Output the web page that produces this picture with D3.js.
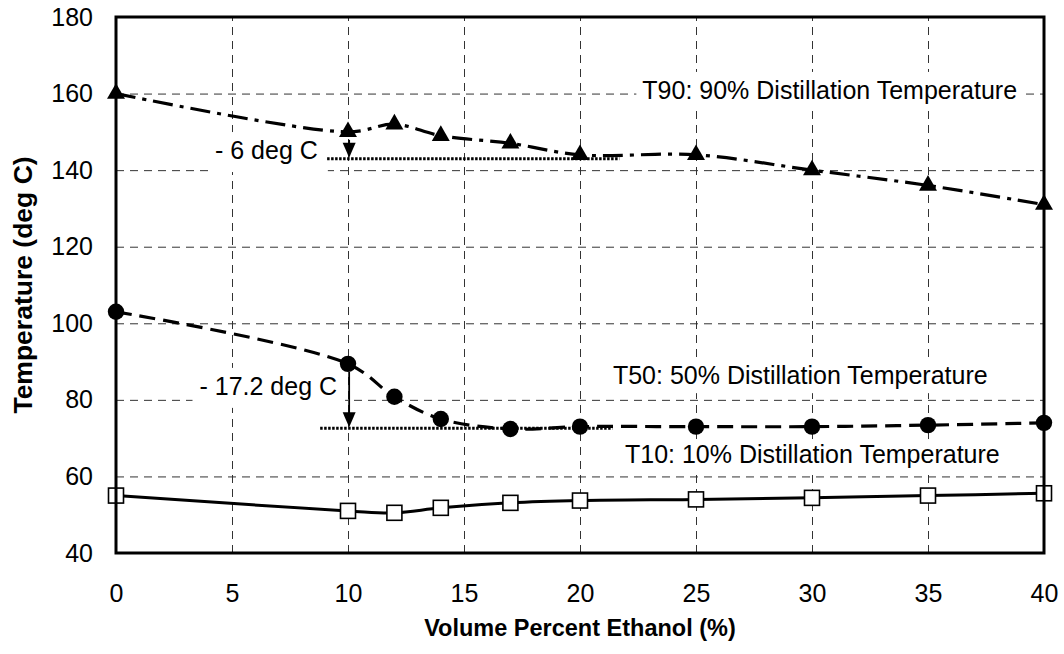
<!DOCTYPE html>
<html>
<head>
<meta charset="utf-8">
<script src="https://cdn.jsdelivr.net/npm/d3@7"></script>
<style>
  body { margin: 0; background: #fff; }
  svg { display: block; font-family: "Liberation Sans", Arial, sans-serif; }
</style>
</head>
<body>
<div id="chart"></div>
<script>
// data
var ethanol = [0, 10, 12, 14, 17, 20, 25, 30, 35, 40];
var t90 = [160, 150, 152, 149, 147, 144, 144, 140, 136, 131];
var t50 = [103, 89.4, 80.8, 75, 72.4, 73, 73, 73, 73.4, 74];
var t10 = [55, 51, 50.5, 51.8, 53.1, 53.7, 54, 54.4, 55, 55.6];
var xTicks = [0, 5, 10, 15, 20, 25, 30, 35, 40];
var yTicks = [40, 60, 80, 100, 120, 140, 160, 180];
var seriesLabels = ['T90: 90% Distillation Temperature', 'T50: 50% Distillation Temperature', 'T10: 10% Distillation Temperature'];
var dropLabels = ['- 6 deg C', '- 17.2 deg C'];
var dropFrom = [150, 89.4];   // value the arrow starts from (at 10 %)
var dropTo = [143, 72.6];     // level of the dotted reference line

var width = 1064, height = 654,
    margin = { top: 17, right: 20, bottom: 101, left: 116 };
var w = width - margin.left - margin.right,
    h = height - margin.top - margin.bottom;

var svg = d3.select('#chart').append('svg')
    .attr('width', width)
    .attr('height', height);

var g = svg.append('g').attr('transform', `translate(${margin.left},${margin.top})`);

var x = d3.scaleLinear().domain([0, 40]).range([0, w]);
var y = d3.scaleLinear().domain([40, 180]).range([h, 0]);

// grid
g.append('g')
    .attr('class', 'grid')
    .attr('transform', `translate(0,${h})`)
    .call(d3.axisBottom(x).tickValues(xTicks.slice(1, -1)).tickSize(-h).tickFormat(''));
g.append('g')
    .attr('class', 'grid')
    .call(d3.axisLeft(y).tickValues(yTicks.slice(1, -1)).tickSize(-w).tickFormat(''));
g.selectAll('.grid .domain').remove();
g.selectAll('.grid line')
    .attr('stroke', '#333')
    .attr('stroke-width', 1)
    .attr('stroke-dasharray', '8,6');

// axes labels
var xAxis = g.append('g')
    .attr('transform', `translate(0,${h})`)
    .call(d3.axisBottom(x).tickValues(xTicks).tickSize(0).tickPadding(31));
var yAxis = g.append('g')
    .call(d3.axisLeft(y).tickValues(yTicks).tickSize(0).tickPadding(23));
[xAxis, yAxis].forEach(function(a) {
    a.select('.domain').remove();
    a.selectAll('text')
        .attr('fill', '#000')
        .style('font-size', '25px')
        .style('font-family', '"Liberation Sans", Arial, sans-serif');
});

// text boxes (white fill hides the grid behind them)
function textBox(txt, px, py, anchor, pad) {
    var grp = g.append('g');
    var rect = grp.append('rect').attr('fill', '#fff');
    var t = grp.append('text')
        .attr('x', px).attr('y', py)
        .attr('text-anchor', anchor)
        .style('font-size', '25px')
        .attr('fill', '#000')
        .text(txt);
    var b = t.node().getBBox();
    rect.attr('x', b.x - pad[3]).attr('y', b.y - pad[0])
        .attr('width', b.width + pad[1] + pad[3])
        .attr('height', b.height + pad[0] + pad[2]);
}
textBox(seriesLabels[0], x(38.84), y(158.6), 'end', [4, 4, 4, 6]);
textBox(seriesLabels[1], x(21.42), y(84.1), 'start', [4, 6, 4, 6]);
textBox(seriesLabels[2], x(21.94), y(63.5), 'start', [1, 6, 4, 6]);
textBox(dropLabels[0], x(8.7), y(142.9), 'end', [4, 10, 8, 7]);
textBox(dropLabels[1], x(9.53), y(81.3), 'end', [4, 8, 8, 7]);

// series
function pts(vals) { return ethanol.map((e, i) => [e, vals[i]]); }
var line = d3.line()
    .x(d => x(d[0])).y(d => y(d[1]))
    .curve(d3.curveCatmullRom.alpha(0.5));

g.append('path').datum(pts(t10))
    .attr('d', line).attr('fill', 'none')
    .attr('stroke', '#000').attr('stroke-width', 3);
g.append('path').datum(pts(t50))
    .attr('d', line).attr('fill', 'none')
    .attr('stroke', '#000').attr('stroke-width', 3.2)
    .attr('stroke-dasharray', '16,8');
g.append('path').datum(pts(t90))
    .attr('d', line).attr('fill', 'none')
    .attr('stroke', '#000').attr('stroke-width', 3.2)
    .attr('stroke-dasharray', '20,7,4,7');

// dotted reference lines + arrows
var refStart = [9.1, 8.8], refEnd = [21.7, 21.4];
dropTo.forEach(function(v, i) {
    g.append('line')
        .attr('x1', x(refStart[i])).attr('x2', x(refEnd[i]))
        .attr('y1', y(v)).attr('y2', y(v))
        .attr('stroke', '#000').attr('stroke-width', 3)
        .attr('stroke-dasharray', '2.5,1.5');
    var ax = x(10.05), ay = y(v) - 1;
    g.append('line')
        .attr('x1', ax).attr('x2', ax)
        .attr('y1', y(dropFrom[i]) + 8).attr('y2', ay - 12)
        .attr('stroke', '#000').attr('stroke-width', 1.8);
    g.append('path')
        .attr('d', `M${ax - 6.5},${ay - 15}L${ax + 6.5},${ay - 15}L${ax},${ay}Z`)
        .attr('fill', '#000');
});

// markers
g.selectAll('.sq').data(pts(t10)).enter().append('rect')
    .attr('x', d => x(d[0]) - 7.5).attr('y', d => y(d[1]) - 7.5)
    .attr('width', 15).attr('height', 15)
    .attr('fill', '#fff').attr('stroke', '#000').attr('stroke-width', 1.6);
g.selectAll('.ci').data(pts(t50)).enter().append('circle')
    .attr('cx', d => x(d[0])).attr('cy', d => y(d[1])).attr('r', 8.2)
    .attr('fill', '#000');
g.selectAll('.tr').data(pts(t90)).enter().append('path')
    .attr('d', d3.symbol(d3.symbolTriangle, 140))
    .attr('transform', d => `translate(${x(d[0])},${y(d[1])})`)
    .attr('fill', '#000');

// frame
g.append('rect')
    .attr('width', w).attr('height', h)
    .attr('fill', 'none').attr('stroke', '#000').attr('stroke-width', 3);

// titles
svg.append('text')
    .attr('x', margin.left + w / 2).attr('y', 636)
    .attr('text-anchor', 'middle')
    .style('font-size', '23.5px').style('font-weight', 'bold')
    .text('Volume Percent Ethanol (%)');
svg.append('text')
    .attr('transform', `translate(32,${margin.top + h / 2}) rotate(-90)`)
    .attr('text-anchor', 'middle')
    .style('font-size', '26.5px').style('font-weight', 'bold')
    .text('Temperature (deg C)');
</script>
</body>
</html>
